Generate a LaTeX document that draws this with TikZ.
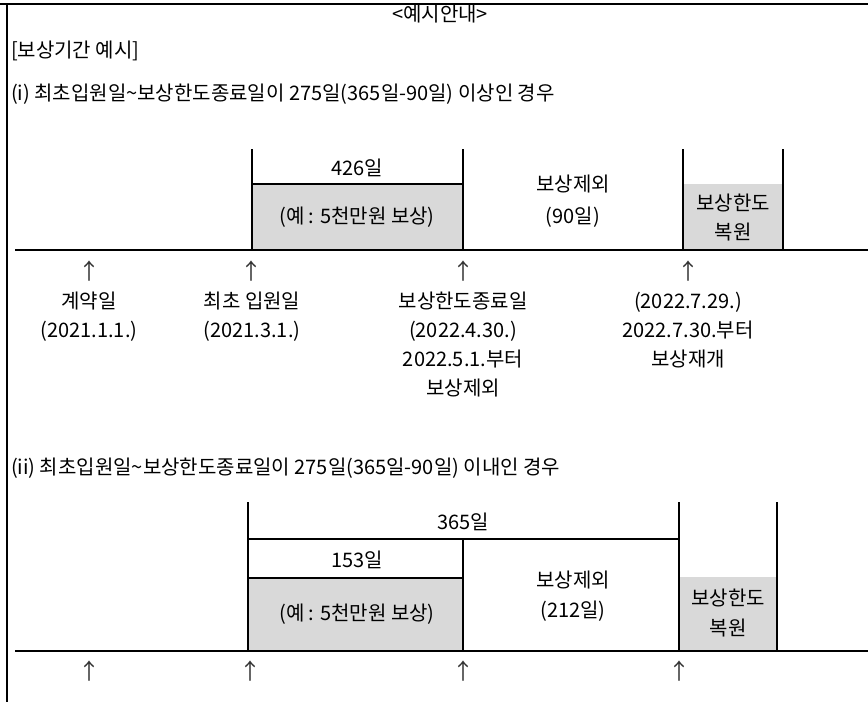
\documentclass[tikz,border=0pt]{standalone}
\usepackage{fontspec}
\setmainfont{Noto Sans CJK KR}
\definecolor{boxgray}{HTML}{D9D9D9}
\begin{document}
\begin{tikzpicture}[x=1pt,y=-1pt,line width=2pt,
  txt/.style={font=\fontsize{20}{22}\selectfont,inner sep=0pt},
  uparr/.style={font=\fontsize{22}{24}\selectfont,inner sep=0pt,text=black!80},
  gbox/.style={fill=boxgray,draw=none}]
\useasboundingbox (0,0) rectangle (868,702);
% frame
\draw (0,4) -- (868,4);
\draw (7,4) -- (7,702);
% headings
\node[txt] (title) at (440,14) {<예시안내>};
\node[txt,anchor=west] (sub) at (10,51) {[보상기간 예시]};
\node[txt,anchor=west] (case1) at (10,94) {(i) 최초입원일\textasciitilde 보상한도종료일이 275일(365일-90일) 이상인 경우};
% ---------- case (i)
\fill[gbox] (252,184) rectangle (463,250);
\fill[gbox] (683,184) rectangle (783,250);
\draw (252,149) -- (252,250);
\draw (463,149) -- (463,250);
\draw (683,149) -- (683,250);
\draw (783,149) -- (783,250);
\draw (252,184) -- (463,184);
\draw (15,250) -- (868,250);
\node[txt] (d426) at (357,168) {426일};
\node[txt] (pay1) at (357,217) {(예 : 5천만원 보상)};
\node[txt,align=center] (ex1) at (573,201) {보상제외\\[10pt](90일)};
\node[txt,align=center] (rest1) at (733,218) {보상한도\\[7pt]복원};
\node[uparr] (a1) at (89,271) {↑};
\node[uparr] (a2) at (251,271) {↑};
\node[uparr] (a3) at (463,271) {↑};
\node[uparr] (a4) at (688,271) {↑};
\node[txt,align=center,anchor=north] (l1) at (89,291) {계약일\\[7pt](2021.1.1.)};
\node[txt,align=center,anchor=north] (l2) at (252,291) {최초 입원일\\[7pt](2021.3.1.)};
\node[txt,align=center,anchor=north] (l3) at (463,291) {보상한도종료일\\[7pt](2022.4.30.)\\[7pt]2022.5.1.부터\\[7pt]보상제외};
\node[txt,align=center,anchor=north] (l4) at (688,291) {(2022.7.29.)\\[7pt]2022.7.30.부터\\[7pt]보상재개};
% ---------- case (ii)
\node[txt,anchor=west] (case2) at (10,468) {(ii) 최초입원일\textasciitilde 보상한도종료일이 275일(365일-90일) 이내인 경우};
\fill[gbox] (248,578) rectangle (463,651);
\fill[gbox] (679,577) rectangle (777,651);
\draw (248,502) -- (248,651);
\draw (463,539) -- (463,651);
\draw (679,502) -- (679,651);
\draw (777,502) -- (777,651);
\draw (248,539) -- (679,539);
\draw (248,578) -- (463,578);
\draw (15,651) -- (868,651);
\node[txt] (d365) at (463,522) {365일};
\node[txt] (d153) at (357,560) {153일};
\node[txt] (pay2) at (357,614) {(예 : 5천만원 보상)};
\node[txt,align=center] (ex2) at (573,596) {보상제외\\[8pt](212일)};
\node[txt,align=center] (rest2) at (728,613) {보상한도\\[8pt]복원};
\node[uparr] (b1) at (89,671) {↑};
\node[uparr] (b2) at (250,671) {↑};
\node[uparr] (b3) at (463,671) {↑};
\node[uparr] (b4) at (679,671) {↑};
\end{tikzpicture}
\end{document}
